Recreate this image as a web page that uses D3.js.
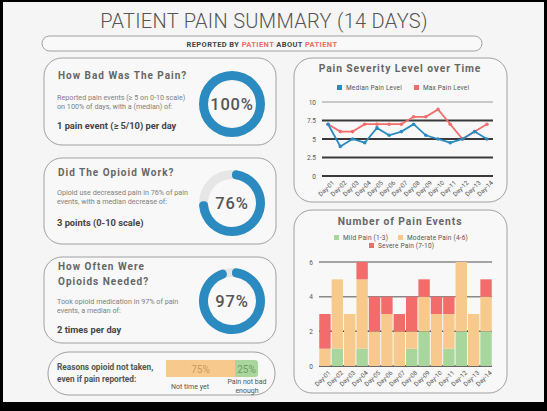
<!DOCTYPE html>
<html><head><meta charset="utf-8">
<script src="https://cdn.jsdelivr.net/npm/d3@7"></script>
<style>
html,body{margin:0;padding:0;background:#000;}
svg{display:block;font-family:Roboto, "Noto Sans", sans-serif;}
</style></head>
<body>
<script>
// ---- data ----
const days = ["Day-01","Day-02","Day-03","Day-04","Day-05","Day-06","Day-07","Day-08","Day-09","Day-10","Day-11","Day-12","Day-13","Day-14"];
const medianPain = [7,4,5,4.5,6.5,5.5,6,7,5.5,5,4.5,5,6,5];
const maxPain    = [7,6,6,7,7,7,7,8,8,9,7,5,6,7];
const lineTicks = [0,2.5,5,7.5,10];
const mildPain     = [0,1,0,1,0,0,0,1,2,0,1,2,0,2];
const moderatePain = [1,4,3,4,2,3,2,1,2,3,2,4,3,2];
const severePain   = [2,0,0,1,2,1,1,2,1,1,1,0,0,1];
const barTicks = [0,2,4,6];
const donutValues = [100,76,97];
const reasonLabels = ["Not time yet","Pain not bad enough"];
const reasonValues = [75,25];

const W=547,H=411;
const C={blue:"#2b8bc0",red:"#f36c6c",orange:"#f8c98c",green:"#a8d69c",
  track:"#e6e6e6",head:"#666",body:"#7a7a7a",dark:"#444",border:"#a0a0a0"};

const svg=d3.select("body").append("svg").attr("width",W).attr("height",H);
svg.append("rect").attr("width",W).attr("height",H).attr("fill","#000");
svg.append("rect").attr("x",3).attr("y",2).attr("width",541).attr("height",400).attr("fill","#f5f5f5");

// title
svg.append("text").attr("x",264).attr("y",28).attr("text-anchor","middle")
  .attr("font-size",20).attr("font-weight",300).attr("fill","#555").attr("letter-spacing",0.3)
  .text("PATIENT PAIN SUMMARY (14 DAYS)");
svg.append("rect").attr("x",42).attr("y",36).attr("width",440).attr("height",15).attr("rx",7.5)
  .attr("fill","#f9f9f9").attr("stroke",C.border);
const sub=svg.append("text").attr("x",262).attr("y",46.5).attr("text-anchor","middle")
  .attr("font-size",7.5).attr("font-weight",700).attr("fill","#444").attr("letter-spacing",0.4);
[["REPORTED BY ","#444"],["PATIENT","#f26a6a"],[" ABOUT ","#444"],["PATIENT","#f26a6a"]]
  .forEach(([t,c])=>sub.append("tspan").attr("fill",c).text(t));

function panel(x,y,w,h,r){
  svg.append("rect").attr("x",x).attr("y",y).attr("width",w).attr("height",h).attr("rx",r)
   .attr("fill","#f8f8f8").attr("stroke",C.border).attr("stroke-width",1);
}
function txt(x,y,s,size,weight,fill,ls,anchor){
  return svg.append("text").attr("x",x).attr("y",y).attr("font-size",size).attr("font-weight",weight)
    .attr("fill",fill).attr("letter-spacing",ls||0).attr("text-anchor",anchor||"start").text(s);
}

// left panels
const leftPanels=[
  {y:58,h:87,head:["How Bad Was The Pain?"],hy:[79],body:["Reported pain events (≥ 5 on 0-10 scale)","on 100% of days, with a (median) of:"],by:[100,109],bold:"1 pain event (≥ 5/10) per day",boy:129,cy:104},
  {y:158,h:86,head:["Did The Opioid Work?"],hy:[176],body:["Opioid use decreased pain in 76% of pain","events, with  a median decrease of:"],by:[195,204],bold:"3 points (0-10 scale)",boy:226,cy:203},
  {y:257,h:86,head:["How Often Were","Opioids Needed?"],hy:[270,285],body:["Took opioid medication in 97% of pain","events, a median of:"],by:[304,313],bold:"2 times per day",boy:333,cy:301}
];
const arc=d3.arc().innerRadius(24).outerRadius(33).cornerRadius(4);
leftPanels.forEach((p,i)=>{
  panel(44,p.y,232,p.h,18);
  p.head.forEach((t,j)=>txt(58,p.hy[j],t,10,700,C.head,1));
  p.body.forEach((t,j)=>txt(57,p.by[j],t,7.2,400,"#808080",0));
  txt(57,p.boy,p.bold,9.3,700,C.dark,0);
  const g=svg.append("g").attr("transform",`translate(232,${p.cy})`);
  g.append("path").attr("d",d3.arc().innerRadius(24).outerRadius(33)({startAngle:0,endAngle:2*Math.PI})).attr("fill",C.track);
  const v=donutValues[i];
  const a=d3.scaleLinear().domain([0,100]).range([0,2*Math.PI]);
  g.append("path").attr("d",(v>=100?d3.arc().innerRadius(24).outerRadius(33):arc)({startAngle:0,endAngle:a(v)})).attr("fill",C.blue);
  g.append("text").attr("y",6).attr("text-anchor","middle").attr("font-size",16.5).attr("font-weight",500)
   .attr("fill","#555").attr("letter-spacing",0.8).text(v+"%");
});

// reasons panel
panel(48,352,227,43,21);
txt(57,370,"Reasons opioid not taken,",8.3,700,"#555",0);
txt(57,382,"even if pain reported:",8.3,700,"#555",0);
const rx=d3.scaleLinear().domain([0,100]).range([166,258]);
let acc=0;
const rCols=[C.orange,C.green], rTxt=["#c99a5e","#6d9e63"];
reasonValues.forEach((v,i)=>{
  const x0=rx(acc),x1=rx(acc+v);
  if(i===reasonValues.length-1){
    svg.append("path").attr("d",`M${x0},360H${x1-3}Q${x1},360 ${x1},363V374Q${x1},377 ${x1-3},377H${x0}Z`).attr("fill",rCols[i]);
  } else {
    svg.append("rect").attr("x",x0).attr("y",360).attr("width",x1-x0).attr("height",17).attr("fill",rCols[i]);
  }
  svg.append("text").attr("x",(x0+x1)/2).attr("y",372.5).attr("text-anchor","middle").attr("font-size",10)
   .attr("fill",rTxt[i]).text(v+"%");
  acc+=v;
});
txt(190,389,reasonLabels[0],7,400,"#555",0,"middle");
txt(247,384,"Pain not bad",7,400,"#555",0,"middle");
txt(247,393,"enough",7,400,"#555",0,"middle");

// ---- line chart ----
panel(294,58,213,144,18);
txt(400,72,"Pain Severity Level over Time",10.3,700,C.head,0.9,"middle");
[[C.blue,"Median Pain Level",337],[C.red,"Max Pain Level",414]].forEach(([c,t,x])=>{
  svg.append("rect").attr("x",x).attr("y",85).attr("width",5).attr("height",5).attr("fill",c);
  txt(x+9,90,t,6.5,400,"#555",0.2);
});
const lx=d3.scalePoint().domain(days).range([322,493]).padding(0.5);
const ly=d3.scaleLinear().domain([0,10]).range([176,102]);
const lg=svg.append("g");
lg.selectAll("line.g").data(lineTicks).join("line").attr("x1",322).attr("x2",493)
  .attr("y1",d=>ly(d)).attr("y2",d=>ly(d)).attr("stroke",d=>d===10?"#999":"#3a3a3a").attr("stroke-width",d=>d===10?1.2:1.8);
lg.append("g").attr("transform","translate(322,0)").call(d3.axisLeft(ly).tickValues(lineTicks).tickFormat(d=>String(d)).tickSize(0).tickPadding(6))
  .call(g=>{g.select(".domain").remove();g.selectAll("text").attr("font-size",6.5).attr("fill","#555").attr("font-family","Roboto, sans-serif");});
lg.append("g").attr("transform","translate(0,177)").call(d3.axisBottom(lx).tickSize(0).tickPadding(3))
  .call(g=>{g.select(".domain").remove();g.selectAll("text").attr("font-size",6.3).attr("fill","#555")
    .attr("font-family","Roboto, sans-serif").attr("text-anchor","end").attr("dy",0)
    .attr("transform","translate(4,4) rotate(-45)");});
const line=d3.line().x((d,i)=>lx(days[i])).y(d=>ly(d));
[[maxPain,C.red],[medianPain,C.blue]].forEach(([s,c])=>{
  lg.append("path").attr("d",line(s)).attr("fill","none").attr("stroke",c).attr("stroke-width",1.8);
  lg.selectAll(null).data(s).join("circle").attr("cx",(d,i)=>lx(days[i])).attr("cy",d=>ly(d)).attr("r",1.8).attr("fill",c);
});

// ---- bar chart ----
panel(294,210,213,183,18);
txt(400,225,"Number of Pain Events",10.3,700,C.head,0.9,"middle");
[[C.green,"Mild Pain (1-3)",334,240],[C.orange,"Moderate Pain (4-6)",398,240],[C.red,"Severe Pain (7-10)",369,248]].forEach(([c,t,x,y])=>{
  svg.append("rect").attr("x",x).attr("y",y-5).attr("width",5).attr("height",5).attr("fill",c);
  txt(x+9,y,t,6.5,400,"#555",0.2);
});
const bx=d3.scaleBand().domain(days).range([319,492]).paddingInner(0.08).paddingOuter(0.02);
const by=d3.scaleLinear().domain([0,6]).range([366,262]);
const bg=svg.append("g");
bg.selectAll("line").data(barTicks).join("line").attr("x1",319).attr("x2",492)
  .attr("y1",d=>by(d)).attr("y2",d=>by(d)).attr("stroke",d=>d>=4?"#888":"#3a3a3a").attr("stroke-width",1.5);
bg.append("g").attr("transform","translate(319,0)").call(d3.axisLeft(by).tickValues(barTicks).tickFormat(d3.format("d")).tickSize(0).tickPadding(6))
  .call(g=>{g.select(".domain").remove();g.selectAll("text").attr("font-size",6.5).attr("fill","#555").attr("font-family","Roboto, sans-serif");});
bg.append("g").attr("transform","translate(0,367)").call(d3.axisBottom(bx).tickSize(0).tickPadding(3))
  .call(g=>{g.select(".domain").remove();g.selectAll("text").attr("font-size",6.3).attr("fill","#555")
    .attr("font-family","Roboto, sans-serif").attr("text-anchor","end").attr("dy",0)
    .attr("transform","translate(4,4) rotate(-45)");});
const stackData=days.map((d,i)=>({day:d,mild:mildPain[i],moderate:moderatePain[i],severe:severePain[i]}));
const stack=d3.stack().keys(["mild","moderate","severe"])(stackData);
const sCols={mild:C.green,moderate:C.orange,severe:C.red};
stack.forEach(layer=>{
  bg.selectAll(null).data(layer).join("rect").attr("x",d=>bx(d.data.day)).attr("width",bx.bandwidth())
    .attr("y",d=>by(d[1])).attr("height",d=>by(d[0])-by(d[1])).attr("fill",sCols[layer.key]);
});
</script>
</body></html>
